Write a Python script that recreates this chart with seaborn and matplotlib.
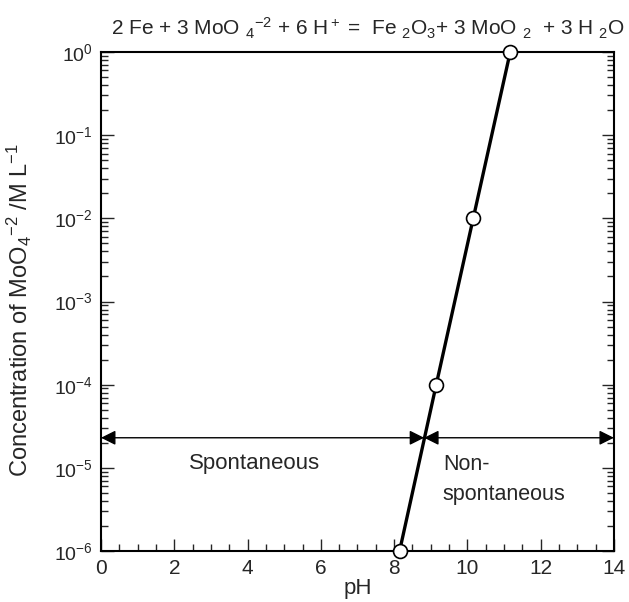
import matplotlib
matplotlib.use("Agg")
import matplotlib.pyplot as plt
import seaborn as sns
import pandas as pd
import numpy as np
from matplotlib.ticker import MultipleLocator, LogLocator, FixedLocator, FixedFormatter

# Data
ph_values = [8.15, 9.15, 10.16, 11.17]
conc_values = [1e-6, 1e-4, 1e-2, 1e0]
boundary_ph = 8.82
arrow_conc = 2.3e-5
x_ticks = [0, 2, 4, 6, 8, 10, 12, 14]
y_ticks = [1e-6, 1e-5, 1e-4, 1e-3, 1e-2, 1e-1, 1e0]
y_tick_labels = ["10$^{-6}$", "10$^{-5}$", "10$^{-4}$", "10$^{-3}$", "10$^{-2}$", "10$^{-1}$", "10$^{0}$"]

sns.set_style("white")
plt.rcParams['font.family'] = ['Liberation Sans', 'DejaVu Sans']
plt.rcParams['mathtext.fontset'] = 'custom'
plt.rcParams['mathtext.rm'] = 'Liberation Sans'
plt.rcParams['mathtext.it'] = 'Liberation Sans'
plt.rcParams['mathtext.default'] = 'regular'

df = pd.DataFrame({"pH": ph_values, "conc": conc_values})

fig = plt.figure(figsize=(6.29, 6.02), dpi=100)
ax = fig.add_axes([0.1606, 0.0847, 0.976 - 0.1606, 0.9136 - 0.0847])

sns.lineplot(data=df, x="pH", y="conc", ax=ax, color="black", linewidth=2.4,
             marker="o", markersize=10, markerfacecolor="white",
             markeredgecolor="black", markeredgewidth=1.2, zorder=5, clip_on=False)

ax.set_yscale("log")
ax.set_xlim(0, 14)
ax.set_ylim(1e-6, 1e0)

# arrows
ax.annotate("", xy=(0, arrow_conc), xytext=(boundary_ph, arrow_conc),
            arrowprops=dict(arrowstyle="<|-|>", color="black", lw=1.0,
                            mutation_scale=22, shrinkA=0, shrinkB=0))
ax.annotate("", xy=(boundary_ph, arrow_conc), xytext=(14, arrow_conc),
            arrowprops=dict(arrowstyle="<|-|>", color="black", lw=1.0,
                            mutation_scale=22, shrinkA=0, shrinkB=0))

ax.text(4.18, 1.12e-5, "Spontaneous", ha="center", va="center", fontsize=16)
ax.text(9.33, 1.45e-5, "Non-\nspontaneous", ha="left", va="top", fontsize=15.5, linespacing=1.55)

# ticks
ax.xaxis.set_major_locator(FixedLocator(x_ticks))
ax.xaxis.set_minor_locator(MultipleLocator(0.5))
ax.yaxis.set_major_locator(FixedLocator(y_ticks))
ax.yaxis.set_major_formatter(FixedFormatter(y_tick_labels))
ax.yaxis.set_minor_locator(LogLocator(base=10, subs=np.arange(2, 10), numticks=20))
ax.tick_params(axis="both", which="both", direction="in", top=False, right=True,
               bottom=True, left=True, width=1.0)
ax.tick_params(axis="x", which="major", labelsize=15)
ax.tick_params(axis="y", which="major", labelsize=14)
ax.tick_params(axis="both", which="major", length=9, pad=6)
ax.tick_params(axis="both", which="minor", length=5)
ax.tick_params(axis="y", which="minor", labelleft=False)

for s in ax.spines.values():
    s.set_linewidth(1.5)
    s.set_color("black")

ax.set_xlabel("pH", fontsize=16, labelpad=0)
ax.set_ylabel("Concentration of MoO$_4$$^{-2}$ /M L$^{-1}$", fontsize=17)
ax.yaxis.set_label_coords(-0.13, 0.483)
ax.set_title("2 Fe + 3 MoO $_4$$^{-2}$ + 6 H$^+$ =  Fe $_2$O$_3$+ 3 MoO $_2$  + 3 H $_2$O",
             fontsize=15, pad=12, x=0.52)

fig.savefig("out.png", dpi=100)
